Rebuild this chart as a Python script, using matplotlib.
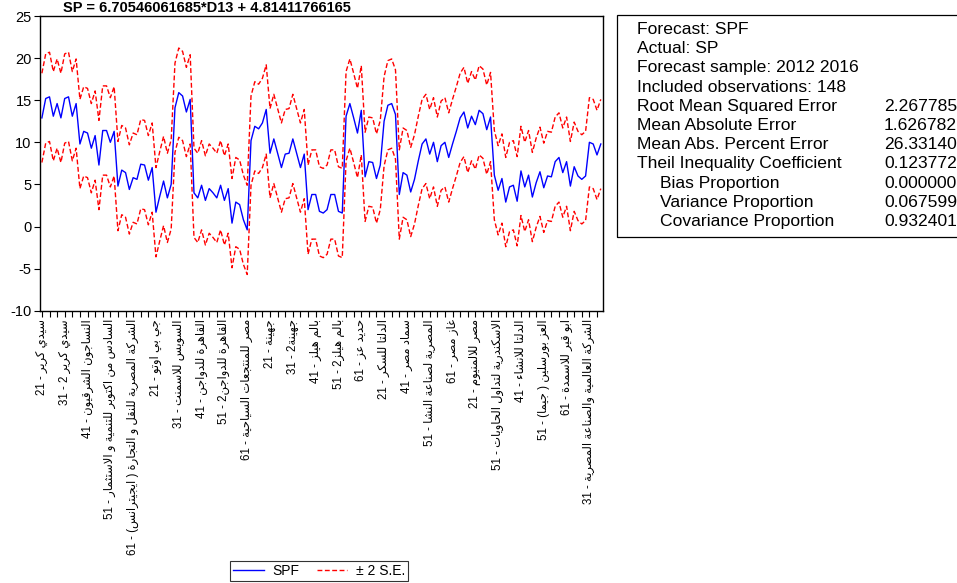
import matplotlib
matplotlib.use("Agg")
from matplotlib import pyplot as plt
from matplotlib.patches import Rectangle
import numpy as np

plt.rcParams['font.family'] = ['Liberation Sans', 'DejaVu Sans']
plt.rcParams['axes.unicode_minus'] = False

# forecast SPF, one value per observation (148 obs)
spf = [12.9, 15.2, 15.4, 13.1, 14.6, 12.9, 15.2, 15.4, 13.1, 14.6,
       9.8, 11.3, 11.1, 9.3, 10.8, 7.3, 11.4, 11.4, 10.0, 11.3,
       4.8, 6.7, 6.4, 4.4, 5.8, 5.6, 7.4, 7.3, 5.5, 7.0,
       1.7, 3.6, 5.4, 3.4, 5.0, 14.1, 15.9, 15.5, 13.6, 15.1,
       4.0, 3.4, 4.9, 3.1, 4.5, 4.0, 3.4, 4.9, 3.1, 4.5,
       0.4, 2.9, 2.6, 0.8, -0.4, 10.2, 11.9, 11.6, 12.3, 13.9,
       8.7, 10.4, 8.7, 7.0, 8.6, 8.7, 10.4, 8.7, 7.0, 8.6,
       2.0, 3.8, 3.8, 1.8, 1.6, 2.0, 3.8, 3.8, 1.8, 1.6,
       13.1, 14.6, 12.9, 11.1, 13.8, 5.9, 7.7, 7.6, 5.7, 7.3,
       12.5, 14.4, 14.6, 13.3, 3.8, 6.4, 6.1, 4.1, 5.6, 7.8,
       9.8, 10.4, 8.6, 10.0, 7.7, 9.6, 10.0, 8.2, 9.8, 11.3,
       12.9, 13.6, 11.7, 13.1, 12.1, 13.8, 13.4, 11.5, 13.0, 6.1,
       4.3, 5.7, 2.9, 4.7, 4.9, 3.0, 6.6, 4.7, 6.1, 3.5,
       5.2, 6.5, 4.6, 6.0, 5.9, 7.7, 8.2, 6.4, 7.7, 4.8,
       7.1, 6.0, 5.6, 6.0, 10.0, 9.8, 8.5, 9.8]
se = 2.65  # forecast standard error (approx.)

# tick labels, one every 6th observation
tick_names = [
    "سيدي كرير - 12",
    "سيدي كرير 2 - 13",
    "النساجون الشرقيون - 14",
    "السادس من اكتوبر للتنمية و الاستثمار - 15",
    "الشركة المصرية للنقل و التجارة ( ايجيترانس) - 16",
    "جي بي اوتو - 12",
    "السويس للاسمنت - 13",
    "القاهرة للدواجن - 14",
    "القاهرة للدواجن2 - 15",
    "مصر للمنتجعات السياحية - 16",
    "جهينة - 12",
    "جهينة2 - 13",
    "بالم هيلز - 14",
    "بالم هيلز2 - 15",
    "حديد عز - 16",
    "الدلتا للسكر - 12",
    "سماد مصر - 14",
    "المصرية لصناعة النشا - 15",
    "غاز مصر - 16",
    "مصر للالمنيوم - 12",
    "الاسكندرية لتداول الحاويات - 15",
    "الدلتا للانشاء - 14",
    "العز بورسلين ( جيما) - 15",
    "ابو قير للاسمدة - 16",
    "الشركة العالمية والصناعة المصرية - 13",
]

stat_names = ["Forecast: SPF", "Actual: SP", "Forecast sample: 2012 2016",
              "Included observations: 148", "Root Mean Squared Error",
              "Mean Absolute Error", "Mean Abs. Percent Error",
              "Theil Inequality Coefficient", "Bias Proportion",
              "Variance Proportion", "Covariance Proportion"]
stat_values = ["", "", "", "", "2.267785", "1.626782", "26.33140",
               "0.123772", "0.000000", "0.067599", "0.932401"]

title = "SP = 6.70546061685*D13 + 4.81411766165"

# arabic presentation forms: first code point, number of forms
FORMS = {
    'ء': (0xFE80, 1), 'آ': (0xFE81, 2), 'أ': (0xFE83, 2), 'ؤ': (0xFE85, 2),
    'إ': (0xFE87, 2), 'ئ': (0xFE89, 4), 'ا': (0xFE8D, 2), 'ب': (0xFE8F, 4),
    'ة': (0xFE93, 2), 'ت': (0xFE95, 4), 'ث': (0xFE99, 4), 'ج': (0xFE9D, 4),
    'ح': (0xFEA1, 4), 'خ': (0xFEA5, 4), 'د': (0xFEA9, 2), 'ذ': (0xFEAB, 2),
    'ر': (0xFEAD, 2), 'ز': (0xFEAF, 2), 'س': (0xFEB1, 4), 'ش': (0xFEB5, 4),
    'ص': (0xFEB9, 4), 'ض': (0xFEBD, 4), 'ط': (0xFEC1, 4), 'ظ': (0xFEC5, 4),
    'ع': (0xFEC9, 4), 'غ': (0xFECD, 4), 'ف': (0xFED1, 4), 'ق': (0xFED5, 4),
    'ك': (0xFED9, 4), 'ل': (0xFEDD, 4), 'م': (0xFEE1, 4), 'ن': (0xFEE5, 4),
    'ه': (0xFEE9, 4), 'و': (0xFEED, 2), 'ى': (0xFEEF, 2), 'ي': (0xFEF1, 4),
    '\ufefb': (0xFEFB, 2),
}


def shape(s):
    # join letters and lay the string out right-to-left (like the eviews graph)
    s = s.replace('لا', '\ufefb')
    out = []
    for i, c in enumerate(s):
        if c not in FORMS:
            out.append(c)
            continue
        base, n = FORMS[c]
        prev = s[i - 1] if i > 0 else ''
        nxt = s[i + 1] if i + 1 < len(s) else ''
        jp = prev in FORMS and FORMS[prev][1] == 4
        jn = n == 4 and nxt in FORMS and FORMS[nxt][1] > 1
        k = 3 if (jp and jn) else 1 if jp else 2 if jn else 0
        out.append(chr(base + k))
    return ''.join(out)[::-1].translate(str.maketrans('()', ')('))


W, H = 957, 583
fig = plt.figure(figsize=(W / 100, H / 100), dpi=100)
ax = fig.add_axes([40 / W, 1 - 310.7 / H, 562.7 / W, 294.7 / H])

x = np.arange(len(spf))
spf = np.array(spf)
ax.plot(x, spf, color='#0000ff', lw=1.0, label='SPF')
ax.plot(x, spf + 2 * se, color='#ff0000', lw=1.0, ls=(0, (3.5, 1.8)), label='± 2 S.E.')
ax.plot(x, spf - 2 * se, color='#ff0000', lw=1.0, ls=(0, (3.5, 1.8)))

ax.set_xlim(-0.5, len(spf) - 0.5)
ax.set_ylim(-10, 25)
ax.set_yticks(np.arange(-10, 26, 5))
ax.set_xticks(np.arange(0, len(spf), 6))
ax.set_xticks(np.arange(0, len(spf), 2), minor=True)
ax.set_xticklabels([shape(t) for t in tick_names], rotation=90, fontsize=8.3)
ax.tick_params(axis='y', labelsize=10.5, length=4, width=0.8, direction='out', pad=2)
ax.tick_params(axis='x', which='both', length=4, width=0.8, direction='out', pad=2)
for sp in ax.spines.values():
    sp.set_linewidth(1.0)

leg = fig.legend(loc='center', bbox_to_anchor=(319 / W, 1 - 571 / H), ncol=2,
                 fontsize=10, frameon=True, fancybox=False, edgecolor='black',
                 handlelength=2.2, columnspacing=1.3, borderpad=0.2,
                 handletextpad=0.6, borderaxespad=0)
leg.get_frame().set_linewidth(0.8)

# statistics box
fig.patches.append(Rectangle((617 / W, 1 - 236.7 / H), (W + 5 - 617) / W, 221.7 / H,
                             transform=fig.transFigure, fill=False,
                             edgecolor='black', lw=0.9))
for k, (name, val) in enumerate(zip(stat_names, stat_values)):
    yb = 1 - (34 + 19.2 * k) / H
    xn = 660 if k >= 8 else 636.7
    fig.text(xn / W, yb, name, fontsize=12.6, va='baseline')
    if val:
        fig.text(884 / W, yb, val, fontsize=12.6, va='baseline')

# equation above the graph (cut off at the top in the original export)
fig.text(63 / W, 1 - 12.5 / H, title, fontsize=10.5, fontweight='bold', va='baseline')

fig.savefig("out.png", dpi=100)
